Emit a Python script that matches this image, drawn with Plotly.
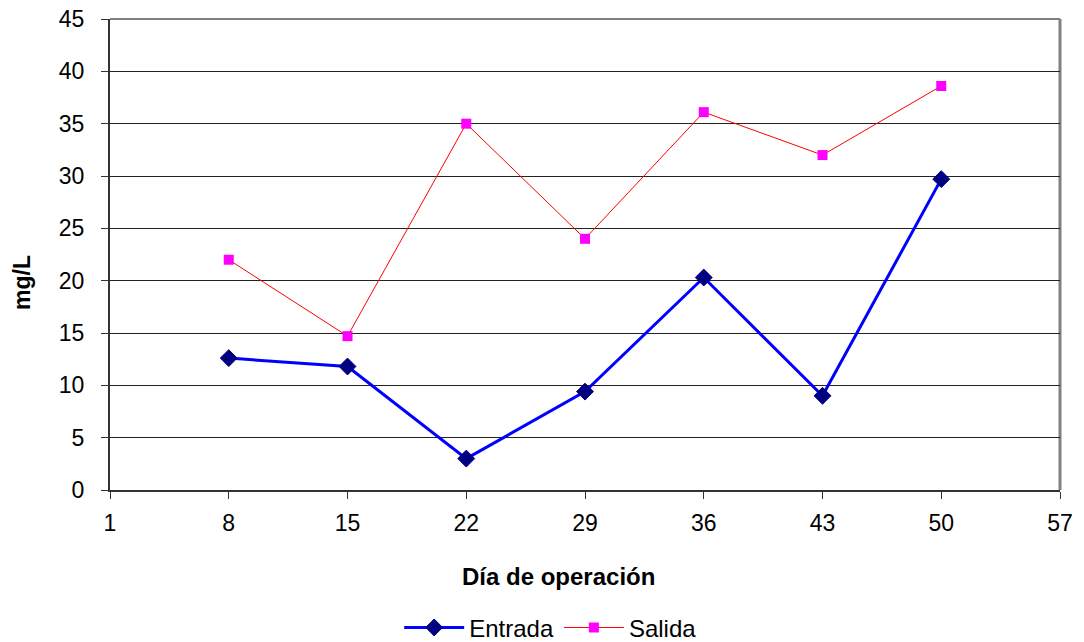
import plotly.graph_objects as go

dias = [8, 15, 22, 29, 36, 43, 50]
entrada = [12.6, 11.8, 3.0, 9.4, 20.3, 9.0, 29.7]
salida = [22.0, 14.7, 35.0, 24.0, 36.1, 32.0, 38.6]
x_ticks = [1, 8, 15, 22, 29, 36, 43, 50, 57]
y_ticks = [0, 5, 10, 15, 20, 25, 30, 35, 40, 45]

FONT = "Liberation Sans, Arial, sans-serif"
W, H = 1084, 642

fig = go.Figure()
fig.add_trace(go.Scatter(
    x=dias, y=entrada, name="Entrada", mode="lines+markers",
    line=dict(color="#0000FF", width=3),
    marker=dict(symbol="diamond", size=13, color="#000080",
                line=dict(color="#000080", width=1)),
))
fig.add_trace(go.Scatter(
    x=dias, y=salida, name="Salida", mode="lines+markers",
    line=dict(color="#FF0000", width=1),
    marker=dict(symbol="square", size=10, color="#FF00FF",
                line=dict(color="#FF00FF", width=0)),
))

# grey frame on top and right of the plotting area
fig.add_shape(type="line", xref="paper", yref="paper", x0=0, x1=1, y0=1, y1=1,
              line=dict(color="#808080", width=2), layer="below")
fig.add_shape(type="line", xref="paper", yref="paper", x0=1, x1=1, y0=0, y1=1,
              line=dict(color="#808080", width=3), layer="below")

# axis titles placed relative to the whole chart area
fig.add_annotation(text="<b>Día de operación</b>", xref="paper", yref="paper",
                   x=(558 - 110) / 950, y=-(576 - 490) / 471,
                   xanchor="center", yanchor="middle", showarrow=False,
                   font=dict(size=24))
fig.add_annotation(text="<b>mg/L</b>", xref="paper", yref="paper",
                   x=-(110 - 22) / 950, y=(490 - 283) / 471, textangle=-90,
                   xanchor="center", yanchor="middle", showarrow=False,
                   font=dict(size=23))

fig.update_layout(
    width=W, height=H,
    margin=dict(l=110, r=24, t=19, b=152, autoexpand=False),
    paper_bgcolor="white", plot_bgcolor="white",
    font=dict(family=FONT, size=22, color="black"),
    showlegend=True,
    legend=dict(orientation="h", xref="container", yref="container",
                x=0.508, xanchor="center", y=0.022, yanchor="middle",
                font=dict(size=24), itemwidth=60, tracegroupgap=0),
    xaxis=dict(
        range=[1, 57], tickmode="array", tickvals=x_ticks,
        ticktext=[str(v) for v in x_ticks],
        showgrid=False, zeroline=False, automargin=False,
        showline=True, linecolor="#333333", linewidth=2,
        ticks="outside", ticklen=7, tickcolor="#333333", tickwidth=1,
        tickfont=dict(size=23), ticklabelstandoff=4,
    ),
    yaxis=dict(
        range=[0, 45], tickmode="array", tickvals=y_ticks,
        showgrid=True, gridcolor="#222222", gridwidth=1,
        zeroline=False, automargin=False,
        showline=True, linecolor="#333333", linewidth=2,
        ticks="outside", ticklen=7, tickcolor="#333333", tickwidth=1,
        tickfont=dict(size=23), ticklabelstandoff=12,
    ),
)

fig.write_html("out.html")
